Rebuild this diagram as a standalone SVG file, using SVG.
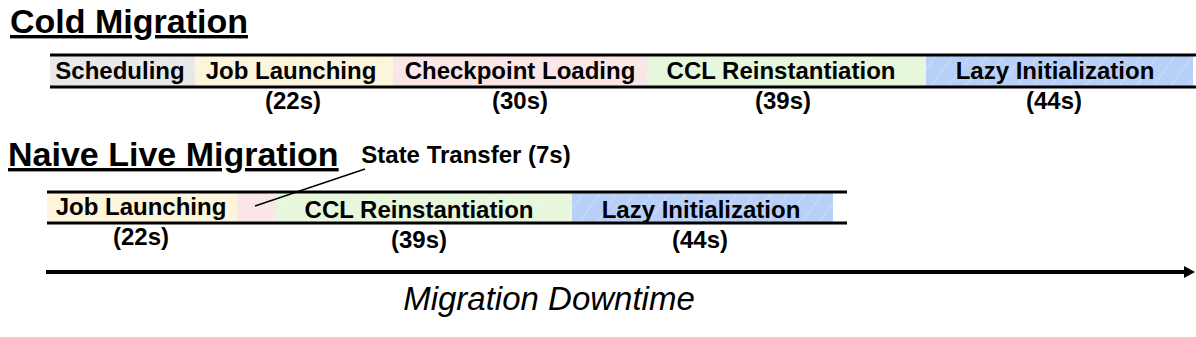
<svg xmlns="http://www.w3.org/2000/svg" width="1196" height="337" viewBox="0 0 1196 337">
<style>
.title{font-family:"Liberation Sans",Arial,sans-serif;font-weight:bold;font-size:34px;text-decoration:underline;fill:#000}
.lbl{font-family:"Liberation Sans",Arial,sans-serif;font-weight:bold;font-size:24px;fill:#000;text-anchor:middle}
.num{font-family:"Liberation Sans",Arial,sans-serif;font-weight:bold;font-size:24px;fill:#000;text-anchor:middle}
.bar{stroke:#000;stroke-width:3}
.hatch{fill:url(#hatch)}
</style>
<defs>
<pattern id="hatch" width="14" height="14" patternUnits="userSpaceOnUse" patternTransform="rotate(35)">
<line x1="0" y1="0" x2="0" y2="14" stroke="#ffffff" stroke-opacity="0.45" stroke-width="1.2"/>
</pattern>
<marker id="arr" markerWidth="12" markerHeight="14" refX="2" refY="7" orient="auto" markerUnits="userSpaceOnUse">
<path d="M0,1 L11,7 L0,13 Z" fill="#000"/>
</marker>
</defs>
<rect width="1196" height="337" fill="#fff"/>
<text class="title" x="10" y="33">Cold Migration</text>
<text class="title" x="8" y="166">Naive Live Migration</text>

<g id="cold-scheduling">
<rect x="50" y="56" width="145" height="30" fill="#e8e8e8"/><rect x="50" y="56" width="145" height="30" class="hatch"/>
<text class="lbl" x="120" y="79">Scheduling</text>
</g>
<g id="cold-job">
<rect x="195" y="56" width="198" height="30" fill="#fdf4dc"/><rect x="195" y="56" width="198" height="30" class="hatch"/>
<text class="lbl" x="291" y="79">Job Launching</text>
<text class="num" x="293" y="109">(22s)</text>
</g>
<g id="cold-ckpt">
<rect x="393" y="56" width="254" height="30" fill="#fae6e6"/><rect x="393" y="56" width="254" height="30" class="hatch"/>
<text class="lbl" x="520" y="79">Checkpoint Loading</text>
<text class="num" x="520" y="109">(30s)</text>
</g>
<g id="cold-ccl">
<rect x="647" y="56" width="279" height="30" fill="#e6f7dc"/><rect x="647" y="56" width="279" height="30" class="hatch"/>
<text class="lbl" x="781" y="79">CCL Reinstantiation</text>
<text class="num" x="783" y="109">(39s)</text>
</g>
<g id="cold-lazy">
<rect x="926" y="56" width="267" height="30" fill="#b8cff7"/><rect x="926" y="56" width="267" height="30" class="hatch"/>
<text class="lbl" x="1055" y="79">Lazy Initialization</text>
<text class="num" x="1054" y="109">(44s)</text>
</g>

<g id="naive-job">
<rect x="47" y="193" width="190" height="29" fill="#fdf4dc"/><rect x="47" y="193" width="190" height="29" class="hatch"/>
<text class="lbl" x="141" y="215">Job Launching</text>
<text class="num" x="141" y="245">(22s)</text>
</g>
<g id="naive-state">
<rect x="237" y="193" width="39" height="29" fill="#fae6e6"/><rect x="237" y="193" width="39" height="29" class="hatch"/>
<text class="num" x="466" y="163">State Transfer (7s)</text>
</g>
<g id="naive-ccl">
<rect x="276" y="193" width="296" height="29" fill="#e6f7dc"/><rect x="276" y="193" width="296" height="29" class="hatch"/>
<text class="lbl" x="419" y="218">CCL Reinstantiation</text>
<text class="num" x="419" y="248">(39s)</text>
</g>
<g id="naive-lazy">
<rect x="572" y="193" width="261" height="29" fill="#b8cff7"/><rect x="572" y="193" width="261" height="29" class="hatch"/>
<text class="lbl" x="701" y="218">Lazy Initialization</text>
<text class="num" x="700" y="248">(44s)</text>
</g>

<g id="connectors">
<line class="bar" x1="50" y1="55" x2="1196" y2="55"/>
<line class="bar" x1="50" y1="87" x2="1196" y2="87"/>
<line class="bar" x1="47" y1="192" x2="847" y2="192"/>
<line class="bar" x1="47" y1="223" x2="847" y2="223"/>
<line x1="255" y1="206" x2="365" y2="169" stroke="#000" stroke-width="1.5"/>
<line x1="46" y1="272" x2="1186" y2="272" stroke="#000" stroke-width="4" marker-end="url(#arr)"/>
</g>
<text x="549" y="310" style="font-family:'Liberation Sans',Arial,sans-serif;font-style:italic;font-size:33px;fill:#000;text-anchor:middle">Migration Downtime</text>
</svg>
